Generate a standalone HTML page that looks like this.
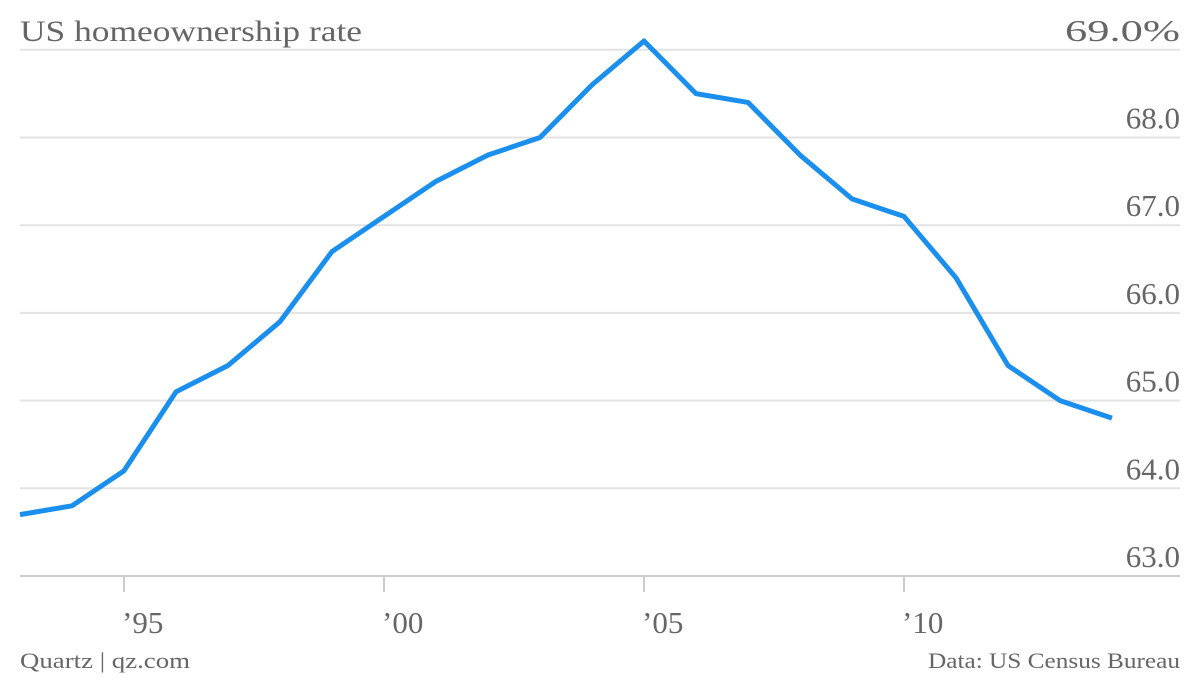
<!DOCTYPE html>
<html><head><meta charset="utf-8"><style>
body{margin:0;background:#fff;width:1200px;height:676px;overflow:hidden}
svg text{font-family:"Liberation Serif",serif;fill:#666}
</style></head><body>
<svg width="1200" height="676">
<g id="grid"></g><g id="xt"></g>
<path id="line" fill="none" stroke="#1a8fee" stroke-width="5" stroke-linejoin="round"></path>
<text x="20" y="41" font-size="30" textLength="342" lengthAdjust="spacingAndGlyphs">US homeownership rate</text>
<text x="20" y="668" font-size="22" fill="#888" textLength="170" lengthAdjust="spacingAndGlyphs">Quartz | qz.com</text>
<text x="1180" y="668" font-size="22" text-anchor="end" textLength="252" lengthAdjust="spacingAndGlyphs">Data: US Census Bureau</text>
</svg>
<script>
const years=[1993,1994,1995,1996,1997,1998,1999,2000,2001,2002,2003,2004,2005,2006,2007,2008,2009,2010,2011,2012,2013,2014];
const rates=[63.7,63.8,64.2,65.1,65.4,65.9,66.7,67.1,67.5,67.8,68.0,68.6,69.1,68.5,68.4,67.8,67.3,67.1,66.4,65.4,65.0,64.8];
const yTicks=[63,64,65,66,67,68,69];
const xTicks=[1995,2000,2005,2010];
const xTickLabels=["’95","’00","’05","’10"];
const x=v=>20+(v-1993)*52;
const y=v=>576-(v-63)*87.7;
const ns="http://www.w3.org/2000/svg";
const g=document.getElementById('grid');
yTicks.forEach(t=>{
 const l=document.createElementNS(ns,'line');
 l.setAttribute('x1',20);l.setAttribute('x2',1180);l.setAttribute('y1',y(t));l.setAttribute('y2',y(t));
 l.setAttribute('stroke',t===63?'#ccc':'#e3e3e3');l.setAttribute('stroke-width',2);
 
 
 g.appendChild(l);
 const tx=document.createElementNS(ns,'text');
 tx.setAttribute('x',1180);tx.setAttribute('y',y(t)-9);tx.setAttribute('text-anchor','end');tx.setAttribute('font-size',31);
 if(t===69){tx.setAttribute('textLength',115);tx.setAttribute('lengthAdjust','spacingAndGlyphs');}
 tx.textContent=t.toFixed(1)+(t===69?'%':'');
 
 
 g.appendChild(tx);
});
const xt=document.getElementById('xt');
xTicks.forEach((t,i)=>{
 const l=document.createElementNS(ns,'line');
 l.setAttribute('x1',x(t));l.setAttribute('x2',x(t));l.setAttribute('y1',576);l.setAttribute('y2',592);
 l.setAttribute('stroke','#ccc');l.setAttribute('stroke-width',2);
 
 
 xt.appendChild(l);
 const tx=document.createElementNS(ns,'text');
 tx.setAttribute('x',x(t)-2);tx.setAttribute('y',633);tx.setAttribute('font-size',31);
 tx.textContent=xTickLabels[i];
 
 
 xt.appendChild(tx);
});
document.getElementById('line').setAttribute('d',years.map((yr,i)=>(i?'L':'M')+x(yr)+','+y(rates[i])).join(''));
</script>
</body></html>
